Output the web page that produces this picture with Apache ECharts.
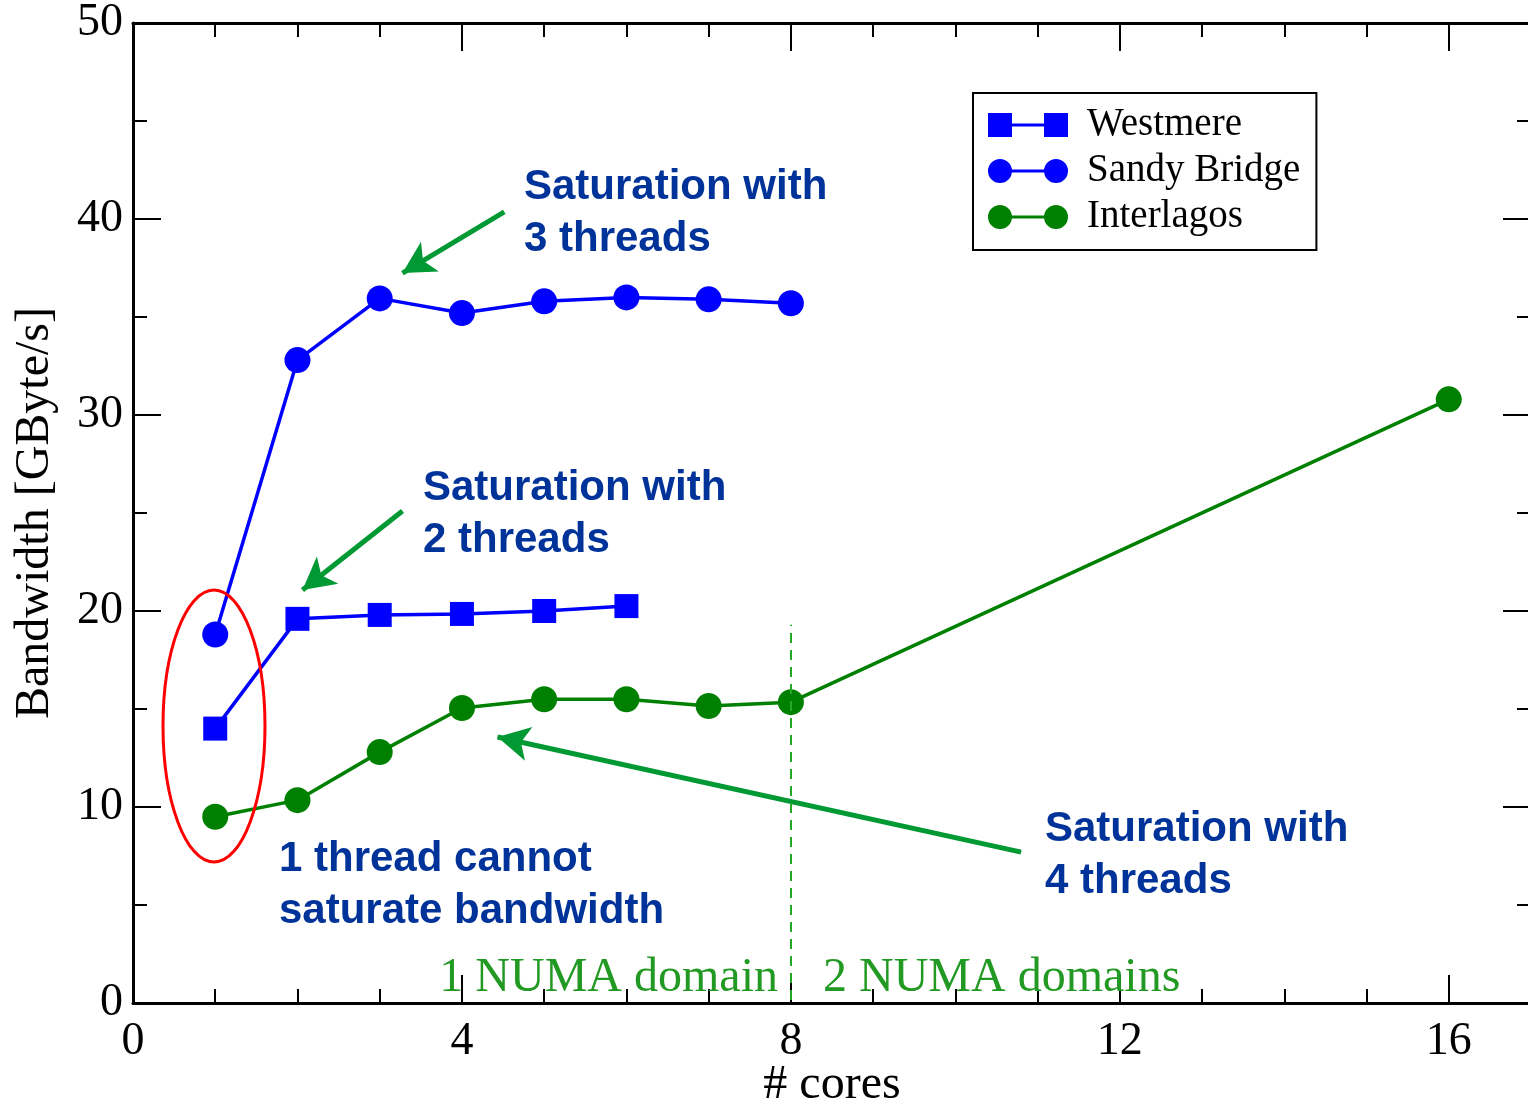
<!DOCTYPE html>
<html>
<head>
<meta charset="utf-8">
<script src="https://cdn.jsdelivr.net/npm/echarts@6/dist/echarts.min.js"></script>
<style>
  html, body { margin: 0; padding: 0; background: #fff; }
  #chart { width: 1528px; height: 1106px; }
</style>
</head>
<body>
<div id="chart"></div>
<script>
// ---- data ----
const westmereCores = [1, 2, 3, 4, 5, 6];
const westmereBW    = [14.0, 19.6, 19.8, 19.85, 20.0, 20.25];
const sandyCores    = [1, 2, 3, 4, 5, 6, 7, 8];
const sandyBW       = [18.8, 32.8, 35.95, 35.2, 35.8, 36.0, 35.9, 35.7];
const interCores    = [1, 2, 3, 4, 5, 6, 7, 8, 16];
const interBW       = [9.5, 10.35, 12.8, 15.05, 15.5, 15.5, 15.15, 15.35, 30.8];
const seriesNames   = ['Westmere', 'Sandy Bridge', 'Interlagos'];
const xTicks        = [0, 4, 8, 12, 16];
const yTicks        = [0, 10, 20, 30, 40, 50];

// ---- annotation geometry (data coordinates) ----
const arrows = [
  [[4.515, 40.36], [3.277, 37.24]],
  [[3.277, 25.10], [2.061, 21.07]],
  [[10.80, 7.70], [4.432, 13.57]]
];
const numaLine = [[8, 0.15], [8, 19.3]];

const pairs = (xs, ys) => xs.map((x, i) => [x, ys[i]]);

const serif = '"Liberation Serif", "Times New Roman", serif';
const sans = '"Liberation Sans", Arial, sans-serif';
const annBlue = '#003399';
const arrowGreen = '#009933';

const chart = echarts.init(document.getElementById('chart'), null, { renderer: 'canvas' });

const axisCommon = {
  type: 'value',
  axisLine: { show: true, onZero: false, lineStyle: { color: '#000', width: 3 } },
  axisTick: { show: true, inside: true, length: 28, lineStyle: { color: '#000', width: 2 } },
  minorTick: { show: true, length: 14, lineStyle: { color: '#000', width: 2 } },
  splitLine: { show: false },
  minorSplitLine: { show: false }
};

const circleIcon = 'path://M0,12A12,12 0 1,1 24,12A12,12 0 1,1 0,12Z M56,12A12,12 0 1,1 80,12A12,12 0 1,1 56,12Z M23,10.5H57V13.5H23Z';
const rectIcon = 'path://M0,0H24V24H0Z M56,0H80V24H56Z M23,10.5H57V13.5H23Z';

const option = {
  animation: false,
  backgroundColor: '#fff',
  grid: { left: 133, top: 23, width: 1398, height: 980, containLabel: false, outerBoundsMode: 'none' },
  legend: {
    orient: 'vertical',
    left: 973, top: 93,
    padding: [12, 16, 13, 15],
    borderColor: '#000', borderWidth: 2,
    backgroundColor: '#fff',
    itemWidth: 80, itemHeight: 24, itemGap: 6,
    textStyle: { fontFamily: serif, fontSize: 39, color: '#000', padding: [0, 0, 0, 14], lineHeight: 40 },
    data: [
      { name: seriesNames[0], icon: rectIcon },
      { name: seriesNames[1], icon: circleIcon },
      { name: seriesNames[2], icon: circleIcon }
    ]
  },
  xAxis: [
    Object.assign({}, axisCommon, {
      position: 'bottom', min: 0, max: 17, interval: 4,
      minorTick: Object.assign({}, axisCommon.minorTick, { splitNumber: 4 }),
      axisLabel: {
        show: true, margin: 16, fontFamily: serif, fontSize: 46, color: '#000',
        showMaxLabel: false,
        formatter: v => (xTicks.indexOf(v) >= 0 ? String(v) : '')
      },
      name: '# cores', nameLocation: 'middle', nameGap: 58, nameMoveOverlap: false,
      nameTextStyle: { fontFamily: serif, fontSize: 48, color: '#000' }
    }),
    Object.assign({}, axisCommon, {
      position: 'top', min: 0, max: 17, interval: 4,
      minorTick: Object.assign({}, axisCommon.minorTick, { splitNumber: 4 }),
      axisLabel: { show: false }
    })
  ],
  yAxis: [
    Object.assign({}, axisCommon, {
      position: 'left', min: 0, max: 50, interval: 10,
      minorTick: Object.assign({}, axisCommon.minorTick, { splitNumber: 2 }),
      axisLabel: {
        show: true, margin: 10, fontFamily: serif, fontSize: 46, color: '#000',
        formatter: v => (yTicks.indexOf(v) >= 0 ? String(v) : '')
      },
      name: 'Bandwidth [GByte/s]', nameLocation: 'middle', nameGap: 74, nameRotate: 90, nameMoveOverlap: false,
      nameTextStyle: { fontFamily: serif, fontSize: 48, color: '#000' }
    }),
    Object.assign({}, axisCommon, {
      position: 'right', min: 0, max: 50, interval: 10,
      minorTick: Object.assign({}, axisCommon.minorTick, { splitNumber: 2 }),
      axisLabel: { show: false }
    })
  ],
  series: [
    {
      name: seriesNames[0], type: 'line', xAxisIndex: 0, yAxisIndex: 0,
      data: pairs(westmereCores, westmereBW),
      symbol: 'rect', symbolSize: 24, showAllSymbol: true,
      itemStyle: { color: '#0000ff' },
      lineStyle: { color: '#0000ff', width: 3.5 },
      z: 3
    },
    {
      name: seriesNames[1], type: 'line', xAxisIndex: 0, yAxisIndex: 0,
      data: pairs(sandyCores, sandyBW),
      symbol: 'circle', symbolSize: 26, showAllSymbol: true,
      itemStyle: { color: '#0000ff' },
      lineStyle: { color: '#0000ff', width: 3.5 },
      z: 3
    },
    {
      name: seriesNames[2], type: 'line', xAxisIndex: 0, yAxisIndex: 0,
      data: pairs(interCores, interBW),
      symbol: 'circle', symbolSize: 26, showAllSymbol: true,
      itemStyle: { color: '#008000' },
      lineStyle: { color: '#008000', width: 3.5 },
      z: 3,
      markLine: {
        silent: true,
        animation: false,
        label: { show: false },
        emphasis: { disabled: true },
        data: arrows.map(a => [
          { coord: a[0], symbol: 'none', lineStyle: { color: arrowGreen, width: 5, type: 'solid' } },
          { coord: a[1], symbol: 'arrow', symbolSize: [26, 32] }
        ]).concat([[
          { coord: numaLine[0], symbol: 'none', lineStyle: { color: '#22aa22', width: 2, type: [10, 7] } },
          { coord: numaLine[1], symbol: 'none' }
        ]])
      }
    }
  ],
  graphic: [
    { type: 'ellipse', shape: { cx: 214, cy: 726, rx: 51, ry: 136 },
      style: { fill: 'none', stroke: '#ff0000', lineWidth: 3 }, z: 10 },
    { type: 'text', left: 524, top: 161, z: 10,
      style: { text: 'Saturation with\n3 threads', fill: annBlue, font: 'bold 42px ' + sans, lineHeight: 52 } },
    { type: 'text', left: 423, top: 462, z: 10,
      style: { text: 'Saturation with\n2 threads', fill: annBlue, font: 'bold 42px ' + sans, lineHeight: 52 } },
    { type: 'text', left: 279, top: 833, z: 10,
      style: { text: '1 thread cannot\nsaturate bandwidth', fill: annBlue, font: 'bold 42px ' + sans, lineHeight: 52 } },
    { type: 'text', left: 1045, top: 803, z: 10,
      style: { text: 'Saturation with\n4 threads', fill: annBlue, font: 'bold 42px ' + sans, lineHeight: 52 } },
    { type: 'text', right: 1528 - 778, top: 954, z: 10,
      style: { text: '1 NUMA domain', fill: '#229922', font: '48px ' + serif } },
    { type: 'text', left: 823, top: 954, z: 10,
      style: { text: '2 NUMA domains', fill: '#229922', font: '48px ' + serif } }
  ]
};

chart.setOption(option);
</script>
</body>
</html>
